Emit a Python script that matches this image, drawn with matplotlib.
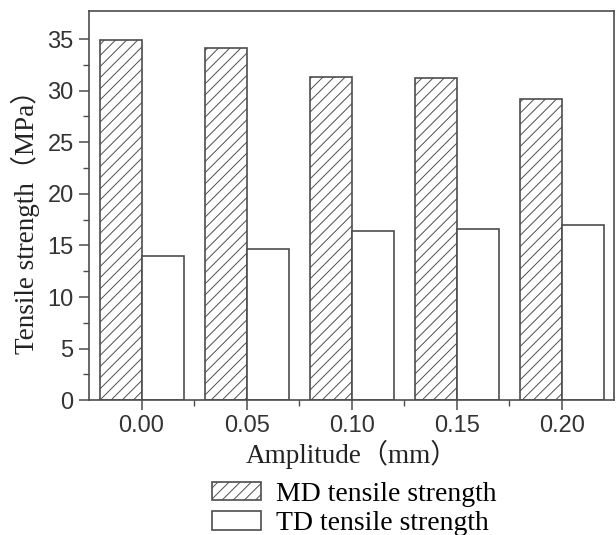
import matplotlib
matplotlib.use("Agg")
import matplotlib.pyplot as plt
import numpy as np

amplitude = ["0.00", "0.05", "0.10", "0.15", "0.20"]
md_strength = [34.9, 34.1, 31.3, 31.2, 29.2]
td_strength = [14.0, 14.7, 16.4, 16.55, 17.0]

plt.rcParams['hatch.linewidth'] = 0.7
plt.rcParams['hatch.color'] = '#777777'

serif = ['Liberation Serif', 'Noto Sans CJK SC']
edge = '#4d4d4d'

fig = plt.figure(figsize=(6.16, 5.35), dpi=100)
ax = fig.add_axes([0.1445, 0.252, 0.853, 0.727])

x = np.arange(len(amplitude))
w = 0.4
ax.bar(x - w / 2, md_strength, w, color='white', edgecolor=edge, linewidth=1.2,
       hatch='///', label='MD tensile strength')
ax.bar(x + w / 2, td_strength, w, color='white', edgecolor=edge, linewidth=1.2,
       label='TD tensile strength')

ax.set_xlim(-0.5, 4.5)
ax.set_ylim(0, 37.7)
ax.set_xticks(x)
ax.set_xticklabels(amplitude, family='Liberation Sans', fontsize=17, color='#333333')
ax.set_xticks(x[:-1] + 0.5, minor=True)
ax.set_yticks(np.arange(0, 36, 5))
ax.set_yticks(np.arange(2.5, 36, 5), minor=True)
for lab in ax.get_yticklabels():
    lab.set_family('Liberation Sans')
    lab.set_fontsize(17)
    lab.set_color('#333333')

ax.tick_params(which='major', direction='out', length=7, width=1.1, color=edge, pad=4)
ax.tick_params(which='minor', direction='out', length=4, width=1.0, color=edge)
for s in ax.spines.values():
    s.set_color(edge)
    s.set_linewidth(1.2)

ax.set_xlabel('Amplitude（mm）', family=serif, fontsize=19.5, color='#222222', labelpad=2)
ax.set_ylabel('Tensile strength（MPa）', family=serif, fontsize=19.5, color='#222222')
ax.yaxis.set_label_coords(-0.094, 0.475)

fig.legend(loc='upper left', bbox_to_anchor=(0.344, 0.1), frameon=False,
           prop={'family': 'Liberation Serif', 'size': 20},
           handlelength=1.76, handleheight=0.66, handletextpad=0.55,
           labelspacing=0.15, borderpad=0, borderaxespad=0)

fig.savefig('out.png', dpi=100)
